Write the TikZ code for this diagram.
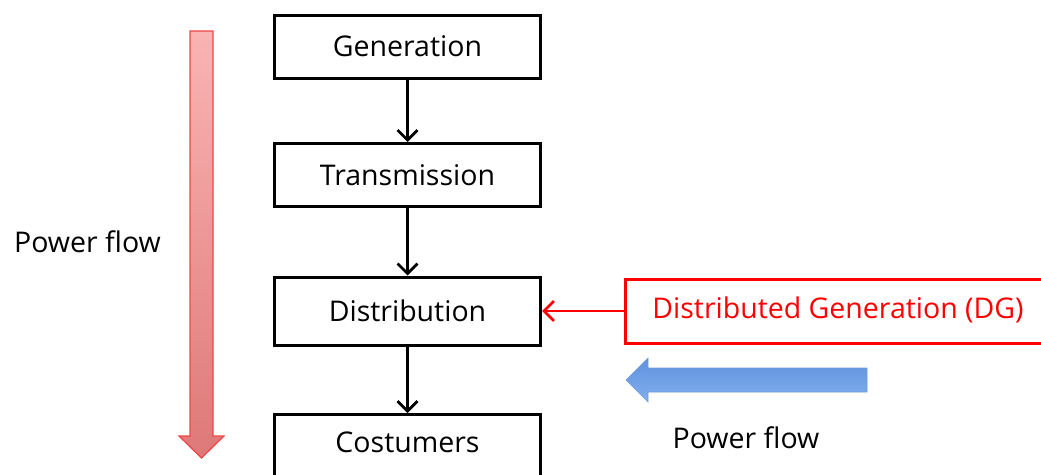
\documentclass[tikz,border=0pt]{standalone}
\usepackage{fontspec}
\setmainfont{Open Sans}
\usetikzlibrary{arrows.meta,shapes.arrows}
\definecolor{dgred}{RGB}{255,0,0}
\tikzset{
  blk/.style={draw=black,line width=3pt,minimum width=266pt,minimum height=63pt,inner sep=0pt,font=\fontsize{28.5}{32}\selectfont},
  conn/.style={line width=2.8pt,-{Straight Barb[length=10pt,width=20pt,line width=2.8pt]}},
  lbl/.style={font=\fontsize{28.5}{32}\selectfont,inner sep=0pt}
}
\begin{document}
\begin{tikzpicture}[x=1pt,y=-1pt]
\useasboundingbox (0,0) rectangle (1041,474);
\clip (0,0) rectangle (1041,474);
% boxes
\node[blk] (gen) at (407.5,46.5) {Generation};
\node[blk] (tra) at (407.5,175) {Transmission};
\node[blk,minimum height=68pt] (dis) at (407.5,311) {Distribution};
\node[blk,minimum height=80pt,anchor=north] (cos) at (407.5,413) {};
\node[lbl] (costxt) at (407.5,442) {Costumers};
\node[draw=dgred,line width=3pt,minimum width=440pt,minimum height=64pt,anchor=west,inner sep=0pt] (dg) at (624,311) {};
\node[lbl,text=dgred] (dgtxt) at (838,310) {Distributed Generation (DG)};
% connectors
\draw[conn] (gen.south) -- (tra.north);
\draw[conn] (tra.south) -- (dis.north);
\draw[conn] (dis.south) -- (cos.north);
\draw[conn,draw=dgred] (dg.west) -- (dis.east);
% big red arrow
\shade[top color={rgb,255:red,250;green,180;blue,180},bottom color={rgb,255:red,222;green,120;blue,120},draw={rgb,255:red,240;green,70;blue,70},line width=1.2pt]
  (190,31) -- (213,31) -- (213,436) -- (224,436) -- (201.5,458) -- (179,436) -- (190,436) -- cycle;
% blue arrow
\shade[top color={rgb,255:red,95;green,145;blue,220},bottom color={rgb,255:red,130;green,175;blue,240},draw={rgb,255:red,110;green,155;blue,225},line width=0.6pt]
  (867,368) -- (867,392) -- (648,392) -- (648,402) -- (626,380) -- (648,358) -- (648,368) -- cycle;
% labels
\node[lbl] (pf1) at (87.5,242) {Power flow};
\node[lbl] (pf2) at (746,438) {Power flow};
\end{tikzpicture}
\end{document}
